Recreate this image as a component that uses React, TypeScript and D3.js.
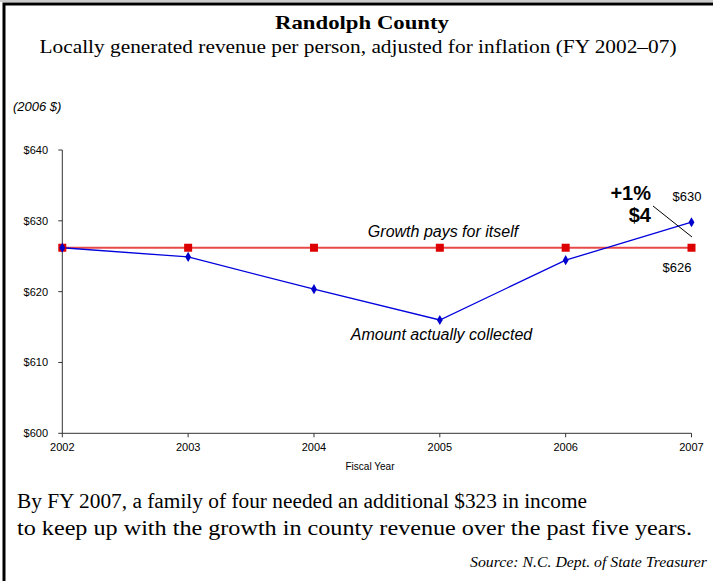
import React from "react";
import * as d3 from "d3";

const years = [2002, 2003, 2004, 2005, 2006, 2007];
const collected = [626.2, 624.9, 620.35, 616.0, 624.45, 629.8];
const growthPays = [626.2, 626.2, 626.2, 626.2, 626.2, 626.2];
const yTicks = [600, 610, 620, 630, 640];

const W = 713;
const H = 581;

export default function App() {
  const x = d3.scaleLinear().domain([2002, 2007]).range([62.3, 691.5]);
  const y = d3.scaleLinear().domain([600, 640]).range([433.3, 150]);
  const line = d3
    .line<number>()
    .x((_, i) => x(years[i]))
    .y((d) => y(d));
  const sans = "Liberation Sans, Arial, sans-serif";
  const serif = "Liberation Serif, Times New Roman, serif";
  return (
    <svg
      width={W}
      height={H}
      style={{ position: "absolute", left: 0, top: 0, background: "#fff" }}
    >
      <rect x={0} y={0} width={W} height={H} fill="#fff" />
      <line x1={0} x2={W} y1={1} y2={1} stroke="#999" strokeWidth={1} />
      <rect x={4} y={4} width={W + 50} height={H + 50} fill="none" stroke="#000" strokeWidth={3} />
      <text x={362} y={29} textAnchor="middle" fontFamily={serif} fontWeight="bold" fontSize={19} textLength={174} lengthAdjust="spacingAndGlyphs">
        Randolph County
      </text>
      <text x={358} y={53} textAnchor="middle" fontFamily={serif} fontSize={19} textLength={637} lengthAdjust="spacingAndGlyphs">
        Locally generated revenue per person, adjusted for inflation (FY 2002–07)
      </text>
      <text x={13} y={111} fontFamily={sans} fontStyle="italic" fontSize={13}>
        (2006 $)
      </text>
      {/* y axis */}
      <line x1={x(2002)} x2={x(2002)} y1={y(640)} y2={y(600)} stroke="#333" />
      {yTicks.map((t) => (
        <g key={t}>
          <line x1={x(2002) - 4} x2={x(2002)} y1={y(t)} y2={y(t)} stroke="#333" />
          <text x={48} y={y(t) + 4} textAnchor="end" fontFamily={sans} fontSize={11}>
            ${t}
          </text>
        </g>
      ))}
      {/* x axis */}
      <line x1={x(2002)} x2={x(2007)} y1={y(600)} y2={y(600)} stroke="#333" />
      {years.map((yr) => (
        <g key={yr}>
          <line x1={x(yr)} x2={x(yr)} y1={y(600)} y2={y(600) + 4} stroke="#333" />
          <text x={x(yr)} y={y(600) + 18} textAnchor="middle" fontFamily={sans} fontSize={11}>
            {yr}
          </text>
        </g>
      ))}
      <text x={370} y={470} textAnchor="middle" fontFamily={sans} fontSize={10} textLength={49} lengthAdjust="spacingAndGlyphs">
        Fiscal Year
      </text>
      {/* series */}
      <path d={line(growthPays) || ""} fill="none" stroke="#e84848" strokeWidth={2} />
      <path d={line(collected) || ""} fill="none" stroke="#0000dd" strokeWidth={1.3} />
      {growthPays.map((v, i) => (
        <rect key={"r" + i} x={x(years[i]) - 4} y={y(v) - 4} width={8} height={8} fill="#dd0000" />
      ))}
      {collected.map((v, i) => (
        <path
          key={"b" + i}
          d={d3.symbol(d3.symbolDiamond, 30)() || ""}
          transform={`translate(${x(years[i])},${y(v)})`}
          fill="#0000cc"
        />
      ))}
      <text x={443} y={237} textAnchor="middle" fontFamily={sans} fontStyle="italic" fontSize={16}>
        Growth pays for itself
      </text>
      <text x={441.5} y={340} textAnchor="middle" fontFamily={sans} fontStyle="italic" fontSize={16}>
        Amount actually collected
      </text>
      <text x={651} y={200} textAnchor="end" fontFamily={sans} fontWeight="bold" fontSize={20}>
        +1%
      </text>
      <text x={651} y={222} textAnchor="end" fontFamily={sans} fontWeight="bold" fontSize={20}>
        $4
      </text>
      <line x1={653} y1={206} x2={692} y2={237} stroke="#000" strokeWidth={1} />
      <text x={687} y={201} textAnchor="middle" fontFamily={sans} fontSize={13}>
        ${Math.round(collected[5])}
      </text>
      <text x={677} y={272} textAnchor="middle" fontFamily={sans} fontSize={13}>
        ${Math.round(growthPays[5])}
      </text>
      <text x={17} y={508} fontFamily={serif} fontSize={20} textLength={570} lengthAdjust="spacingAndGlyphs">
        By FY 2007, a family of four needed an additional $323 in income
      </text>
      <text x={17} y={535} fontFamily={serif} fontSize={20} textLength={675} lengthAdjust="spacingAndGlyphs">
        to keep up with the growth in county revenue over the past five years.
      </text>
      <text x={707} y={567} textAnchor="end" fontFamily={serif} fontStyle="italic" fontSize={15} textLength={237} lengthAdjust="spacingAndGlyphs">
        Source: N.C. Dept. of State Treasurer
      </text>
    </svg>
  );
}
